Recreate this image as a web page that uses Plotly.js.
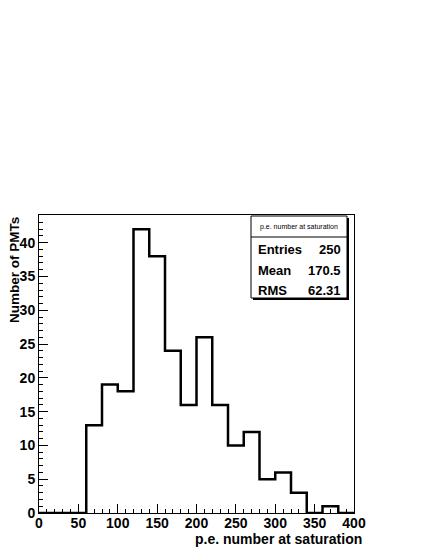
<!DOCTYPE html>
<html><head><meta charset="utf-8">
<script src="https://cdn.plot.ly/plotly-3.0.1.min.js"></script>
<style>html,body{margin:0;padding:0;background:#fff}#c{width:425px;height:550px}</style>
</head><body><div id="c"></div>
<script>
var binEdges = [0,20,40,60,80,100,120,140,160,180,200,220,240,260,280,300,320,340,360,380,400];
var counts = [0,0,0,13,19,18,42,38,24,16,26,16,10,12,5,6,3,0,1,0];
var xTitle = "p.e. number at saturation";
var yTitle = "Number of PMTs";
var statsTitle = "p.e. number at saturation";
var statLabels = ["Entries","Mean","RMS"];
var statValues = ["250","170.5","62.31"];

var yStep = counts.concat([counts[counts.length-1]]);
var font = "Liberation Sans, Arial, sans-serif";
var trace = {x: binEdges, y: yStep, type:'scatter', mode:'lines',
  line:{shape:'hv', color:'#000', width:2.5}, hoverinfo:'skip', showlegend:false};

var L=39, R=354, T=215, B=513;
function px(x){return (x-L)/(R-L);}
function py(y){return (B-y)/(B-T);}

var shapes = [
  {type:'rect', xref:'paper', yref:'paper', x0:px(253), x1:px(349), y0:py(300), y1:py(218), fillcolor:'#000', line:{width:0}},
  {type:'rect', xref:'paper', yref:'paper', x0:px(251), x1:px(347), y0:py(298), y1:py(216), fillcolor:'#fff', line:{color:'#000', width:1}},
  {type:'line', xref:'paper', yref:'paper', x0:px(251), x1:px(347), y0:py(237), y1:py(237), line:{color:'#000', width:1}}
];
var ann = [
  {xref:'paper', yref:'paper', x:px(299), y:py(227), text:statsTitle, showarrow:false, xanchor:'center', yanchor:'middle', font:{family:font, size:7, color:'#000'}},
  {xref:'paper', yref:'paper', x:px(364), y:py(539), text:xTitle, showarrow:false, xanchor:'right', yanchor:'middle', font:{family:font, size:14, color:'#000', weight:'bold'}},
  {xref:'paper', yref:'paper', x:px(14), y:1, text:yTitle, showarrow:false, textangle:-90, xanchor:'center', yanchor:'top', font:{family:font, size:13.5, color:'#000', weight:'bold'}}
];
var rowsY = [249, 270, 290];
for (var i=0;i<statLabels.length;i++){
  ann.push({xref:'paper', yref:'paper', x:px(256), y:py(rowsY[i]), text:statLabels[i], showarrow:false, xanchor:'left', yanchor:'middle', font:{family:font, size:13, color:'#000', weight:'bold'}});
  ann.push({xref:'paper', yref:'paper', x:px(343), y:py(rowsY[i]), text:statValues[i], showarrow:false, xanchor:'right', yanchor:'middle', font:{family:font, size:13, color:'#000', weight:'bold'}});
}

var layout = {
  width:425, height:550, paper_bgcolor:'#fff', plot_bgcolor:'#fff',
  margin:{l:L, r:425-R, t:T, b:550-B, pad:0},
  showlegend:false,
  xaxis:{range:[0,400], tickmode:'linear', tick0:0, dtick:50, ticks:'inside', ticklen:9, tickwidth:1, tickcolor:'#000',
    minor:{ticks:'inside', dtick:10, ticklen:4, tickcolor:'#000'}, ticklabelstandoff:-3,
    showline:true, linecolor:'#000', linewidth:1, mirror:true, showgrid:false, zeroline:false,
    tickfont:{family:font, size:14, color:'#000', weight:'bold'}},
  yaxis:{range:[0,44.1], tickmode:'linear', tick0:0, dtick:5, ticks:'inside', ticklen:9, tickwidth:1, tickcolor:'#000',
    minor:{ticks:'inside', dtick:1, ticklen:4, tickcolor:'#000'},
    showline:true, linecolor:'#000', linewidth:1, mirror:true, showgrid:false, zeroline:false,
    tickfont:{family:font, size:14, color:'#000', weight:'bold'}},
  shapes:shapes, annotations:ann
};
Plotly.newPlot('c',[trace],layout,{staticPlot:true, displayModeBar:false});
</script></body></html>
